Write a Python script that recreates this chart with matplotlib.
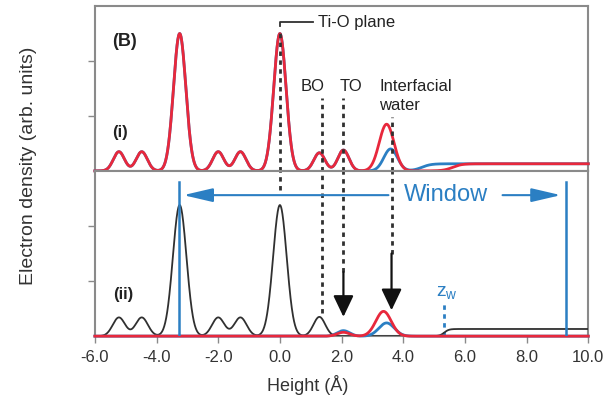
import numpy as np
import matplotlib
matplotlib.use("Agg")
import matplotlib.pyplot as plt

plt.rcParams['font.family'] = ['Liberation Sans', 'DejaVu Sans']

# ---- peak parameters (position in Å, height in arb. units, width sigma in Å) ----
# Substrate layers seen in profile (i)
sub_pos_i = [-5.22, -4.48, -3.25, -2.00, -1.28, 0.00, 1.28, 2.06]
sub_h_i = [0.35, 0.35, 2.50, 0.35, 0.35, 2.50, 0.33, 0.38]
sub_w_i = [0.18, 0.18, 0.20, 0.18, 0.18, 0.20, 0.18, 0.18]

# Interfacial water peak in (i): red and blue models
water_pos_i = {"red": 3.46, "blue": 3.59}
water_h_i = {"red": 0.85, "blue": 0.40}
water_w_i = {"red": 0.24, "blue": 0.22}
bulk_edge_i = {"red": 5.60, "blue": 4.60}
bulk_level = 0.13

# Substrate-only profile (ii)
sub_pos_ii = [-5.22, -4.48, -3.25, -2.00, -1.28, 0.00, 1.28]
sub_h_ii = [0.34, 0.34, 2.38, 0.34, 0.34, 2.38, 0.35]
sub_w_ii = [0.20, 0.20, 0.22, 0.20, 0.20, 0.22, 0.19]
bulk_edge_ii = 5.33

# Water-only contributions in (ii): TO and interfacial water
water_pos_ii = {"red": [2.06, 3.36], "blue": [2.06, 3.46]}
water_h_ii = {"red": [0.07, 0.45], "blue": [0.10, 0.24]}
water_w_ii = {"red": [0.20, 0.25], "blue": [0.20, 0.25]}

# Marker positions (Å)
tio_plane = 0.0
bo_pos = 1.35
to_pos = 2.06
iw_pos = 3.62
window = (-3.26, 9.27)
z_w = 5.31

x_ticks = [-6.0, -4.0, -2.0, 0.0, 2.0, 4.0, 6.0, 8.0, 10.0]

RED = "#e8283c"
BLUE = "#2b7fc3"
BLACK = "#303030"
GRAY = "#8a8a8a"
TXT = "#222222"

z = np.linspace(-6, 10, 2000)


def peaks(pos, h, w):
    out = np.zeros_like(z)
    for p, a, s in zip(pos, h, w):
        out += a * np.exp(-0.5 * ((z - p) / s) ** 2)
    return out


def step(edge, width, level):
    return level * 0.5 * (1 + np.tanh((z - edge) / width))


top = {}
for c in ("red", "blue"):
    top[c] = (peaks(sub_pos_i, sub_h_i, sub_w_i)
              + peaks([water_pos_i[c]], [water_h_i[c]], [water_w_i[c]])
              + step(bulk_edge_i[c], 0.3, bulk_level))
bot_black = peaks(sub_pos_ii, sub_h_ii, sub_w_ii) + step(bulk_edge_ii, 0.15, bulk_level)
bot = {c: peaks(water_pos_ii[c], water_h_ii[c], water_w_ii[c]) for c in ("red", "blue")}

fig = plt.figure(figsize=(6.16, 4.05), dpi=100)
ax1 = fig.add_axes([0.154, 0.578, 0.801, 0.407])
ax2 = fig.add_axes([0.154, 0.170, 0.801, 0.408])

for ax in (ax1, ax2):
    ax.set_xlim(-6, 10)
    ax.set_ylim(0, 3)
    for s in ax.spines.values():
        s.set_color(GRAY)
        s.set_linewidth(1.5)
    ax.set_yticks([1, 2])
    ax.set_yticklabels([])
    ax.tick_params(axis='y', direction='out', length=5, width=1, color=GRAY)

ax1.tick_params(axis='x', length=0, labelbottom=False)
ax2.set_xticks(x_ticks)
ax2.set_xticklabels([f"{v:.1f}" for v in x_ticks])
ax2.tick_params(axis='x', direction='out', length=5, width=1, color=GRAY,
                labelsize=12, labelcolor="#333333", pad=5)

# ---- panel (i) ----
ax1.plot(z, top["blue"], color=BLUE, lw=2, zorder=3, clip_on=False)
ax1.plot(z, top["red"], color=RED, lw=2, zorder=4, clip_on=False)

dot = (0, (1.6, 1.6))
ax1.plot([tio_plane, tio_plane], [0, 2.55], color=BLACK, lw=2, ls=dot, zorder=5)
ax1.plot([tio_plane, tio_plane, 1.06], [2.64, 2.71, 2.71], color=BLACK, lw=1.3, zorder=5)
ax1.text(1.25, 2.71, "Ti-O plane", fontsize=12, va='center', ha='left', color=TXT)
for xp, ytop in ((bo_pos, 1.33), (to_pos, 1.33), (iw_pos, 0.98)):
    ax1.plot([xp, xp], [0, ytop], color=BLACK, lw=2, ls=dot, zorder=5)
ax1.text(1.06, 1.53, "BO", fontsize=12, ha='center', va='center', color=TXT)
ax1.text(2.32, 1.53, "TO", fontsize=12, ha='center', va='center', color=TXT)
ax1.text(3.23, 1.53, "Interfacial", fontsize=12, ha='left', va='center', color=TXT)
ax1.text(3.23, 1.19, "water", fontsize=12, ha='left', va='center', color=TXT)
ax1.text(-5.45, 2.35, "(B)", fontsize=13, fontweight='bold', ha='left', va='center', color=TXT)
ax1.text(-5.45, 0.69, "(i)", fontsize=12, fontweight='bold', ha='left', va='center', color=TXT)

# ---- panel (ii) ----
ax2.plot(z, bot_black, color=BLACK, lw=1.3, zorder=3)
ax2.plot(z, bot["blue"], color=BLUE, lw=2, zorder=4, clip_on=False)
ax2.plot(z, bot["red"], color=RED, lw=2, zorder=5, clip_on=False)

ax2.plot([tio_plane, tio_plane], [2.65, 3], color=BLACK, lw=2, ls=dot)
ax2.plot([bo_pos, bo_pos], [0.42, 3], color=BLACK, lw=2, ls=dot)
ax2.plot([to_pos, to_pos], [1.16, 3], color=BLACK, lw=2, ls=dot)
ax2.plot([iw_pos, iw_pos], [1.50, 3], color=BLACK, lw=2, ls=dot)

for xp, y0, y1 in ((to_pos, 1.16, 0.35), (iw_pos, 1.50, 0.47)):
    ax2.annotate("", xy=(xp, y1), xytext=(xp, y0),
                 arrowprops=dict(arrowstyle="-|>,head_length=1.3,head_width=0.62",
                                 color="#111111", lw=1.6, shrinkA=0, shrinkB=0))

# analysis window
for xp in window:
    ax2.plot([xp, xp], [0, 2.80], color=BLUE, lw=1.8, zorder=6)
ax2.annotate("", xy=(-3.13, 2.56), xytext=(3.52, 2.56),
             arrowprops=dict(arrowstyle="-|>,head_length=1.8,head_width=0.42",
                             color=BLUE, lw=1.5, shrinkA=0, shrinkB=0))
ax2.annotate("", xy=(9.11, 2.56), xytext=(7.22, 2.56),
             arrowprops=dict(arrowstyle="-|>,head_length=1.8,head_width=0.42",
                             color=BLUE, lw=1.5, shrinkA=0, shrinkB=0))
ax2.text(5.37, 2.56, "Window", fontsize=17, color=BLUE, ha='center', va='center')

ax2.plot([z_w, z_w], [0, 0.60], color=BLUE, lw=2, ls=dot)
ax2.text(5.05, 0.80, r"$\mathregular{z_w}$", fontsize=14, color=BLUE, ha='left', va='center')
ax2.text(-5.4, 0.75, "(ii)", fontsize=12, fontweight='bold', ha='left', va='center', color=TXT)

fig.text(0.047, 0.59, "Electron density (arb. units)", rotation=90, fontsize=14,
         ha='center', va='center', color="#333333")
fig.text(0.5, 0.049, "Height (Å)", fontsize=13, ha='center', va='center', color="#333333")

fig.savefig("out.png", dpi=100)
